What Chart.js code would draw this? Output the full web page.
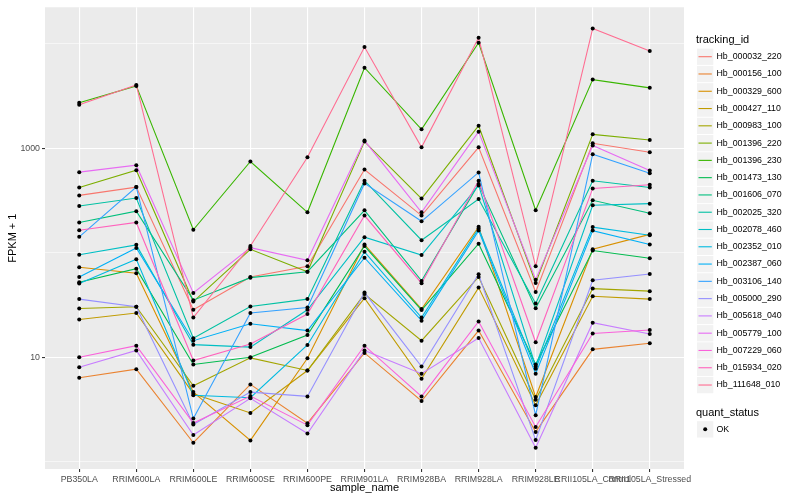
<!DOCTYPE html>
<html lang="en">
<head>
    <meta charset="UTF-8">
    <title>FPKM by sample</title>
    <script src="https://cdn.jsdelivr.net/npm/chart.js@4.4.1/dist/chart.umd.min.js"></script>
    <style>
        html, body {
            margin: 0;
            padding: 0;
            background: #ffffff;
        }

        #wrap {
            width: 800px;
            height: 500px;
        }
    </style>
</head>
<body>
    <div id="wrap"><canvas id="fpkmChart" width="800" height="500"></canvas></div>
<script>
    // x categories
    const sampleNames = ["PB350LA", "RRIM600LA", "RRIM600LE", "RRIM600SE", "RRIM600PE", "RRIM901LA",
        "RRIM928BA", "RRIM928LA", "RRIM928LE", "RRII105LA_Control", "RRII105LA_Stressed"];

    // FPKM + 1, one array per gene, same order as sampleNames
    const hb000032_220 = [354, 425, 28.5, 58.7, 74.2, 627, 227, 1022, 42.2, 1116, 916];
    const hb000156_100 = [6.37, 7.69, 1.52, 5.50, 2.34, 11.0, 3.81, 18.0, 1.93, 11.9, 13.6];
    const hb000329_600 = [72.6, 63.7, 4.64, 1.60, 9.78, 120, 28.9, 177, 4.16, 108, 150];
    const hb000427_110 = [23.0, 26.5, 4.48, 2.93, 7.47, 36.8, 6.23, 46.4, 3.47, 38.4, 36.0];
    const hb000983_100 = [29.3, 30.4, 5.34, 9.87, 7.47, 40.2, 14.4, 58.7, 3.93, 45.4, 42.9];
    const hb001396_220 = [422, 617, 34.1, 108, 65.9, 1158, 330, 1645, 51.4, 1359, 1202];
    const hb001396_230 = [2724, 3955, 166, 747, 244, 5908, 1517, 10220, 255, 4541, 3786];
    const hb001473_130 = [52.3, 70.4, 8.52, 10.0, 16.3, 116, 28.3, 122, 8.52, 105, 88.5];
    const hb001606_070 = [195, 250, 35.2, 57.8, 65.9, 255, 53.8, 454, 29.5, 318, 239];
    const hb002025_320 = [280, 334, 15.2, 30.6, 36.0, 489, 132, 327, 32.7, 489, 422];
    const hb002078_460 = [95.7, 119, 13.2, 12.5, 28.5, 141, 95.1, 441, 8.16, 285, 295];
    const hb002352_010 = [50.7, 86.5, 4.32, 4.10, 13.1, 102, 24.0, 171, 7.75, 176, 147];
    const hb002387_060 = [58.7, 111, 14.4, 20.9, 18.0, 89.6, 22.4, 163, 6.95, 163, 120];
    const hb003106_140 = [142, 425, 2.59, 26.5, 29.9, 461, 200, 587, 2.79, 877, 578];
    const hb005000_290 = [36.0, 30.4, 2.27, 4.64, 4.22, 41.6, 8.16, 62.3, 1.61, 54.6, 62.7];
    const hb005618_040 = [8.03, 11.6, 1.80, 4.04, 1.86, 11.6, 6.95, 15.3, 1.36, 21.4, 16.7];
    const hb005779_100 = [591, 689, 41.3, 112, 84.7, 1184, 244, 1442, 55.3, 1061, 613];
    const hb007229_060 = [10.0, 12.9, 2.35, 4.25, 2.24, 12.9, 4.22, 22.0, 2.15, 16.9, 18.2];
    const hb015934_020 = [164, 195, 9.30, 13.4, 25.9, 227, 51.1, 489, 13.9, 413, 448];
    const hb111648_010 = [2608, 4043, 24.0, 116, 821, 9303, 1022, 11405, 74.2, 14020, 8520];

    const trackingIds = ["Hb_000032_220", "Hb_000156_100", "Hb_000329_600", "Hb_000427_110", "Hb_000983_100",
        "Hb_001396_220", "Hb_001396_230", "Hb_001473_130", "Hb_001606_070", "Hb_002025_320",
        "Hb_002078_460", "Hb_002352_010", "Hb_002387_060", "Hb_003106_140", "Hb_005000_290",
        "Hb_005618_040", "Hb_005779_100", "Hb_007229_060", "Hb_015934_020", "Hb_111648_010"];
    const seriesValues = [hb000032_220, hb000156_100, hb000329_600, hb000427_110, hb000983_100,
        hb001396_220, hb001396_230, hb001473_130, hb001606_070, hb002025_320,
        hb002078_460, hb002352_010, hb002387_060, hb003106_140, hb005000_290,
        hb005618_040, hb005779_100, hb007229_060, hb015934_020, hb111648_010];

    // y breaks (log10), only some of them labelled
    const yBreaks = [1, 10, 100, 1000, 10000];
    const yLabelled = [10, 1000];

    const trackColors = ["#F8766D", "#EA8331", "#D89000", "#C09B00", "#A3A500", "#7CAE00", "#39B600",
        "#00BB4E", "#00BF7D", "#00C1A3", "#00BFC4", "#00BAE0", "#00B0F6", "#35A2FF", "#9590FF",
        "#C77CFF", "#E76BF3", "#FA62DB", "#FF62BC", "#FF6C91"];

    const FONT = '"Liberation Sans", Arial, sans-serif';
    Chart.defaults.font.family = FONT;

    // grey panel behind the grid, axis titles and the two legends
    const ggDecor = {
        id: 'ggDecor',
        beforeDraw(chart) {
            const { ctx, chartArea: a } = chart;
            ctx.save();
            ctx.fillStyle = '#EBEBEB';
            ctx.fillRect(a.left, a.top, a.right - a.left, a.bottom - a.top);
            ctx.restore();
        },
        afterDraw(chart) {
            const { ctx, chartArea: a } = chart;
            ctx.save();
            ctx.fillStyle = '#000000';
            ctx.textBaseline = 'middle';
            ctx.textAlign = 'center';
            ctx.font = '11px ' + FONT;
            ctx.fillText('sample_name', (a.left + a.right) / 2, 488);
            ctx.save();
            ctx.translate(13, (a.top + a.bottom) / 2);
            ctx.rotate(-Math.PI / 2);
            ctx.fillText('FPKM + 1', 0, 0);
            ctx.restore();

            // tracking_id legend
            ctx.textAlign = 'left';
            ctx.fillText('tracking_id', 696, 40);
            ctx.font = '8.8px ' + FONT;
            trackingIds.forEach((id, i) => {
                const cy = 56.7 + 17.28 * i;
                ctx.fillStyle = '#F2F2F2';
                ctx.fillRect(697, cy - 8.1, 16.3, 16.3);
                ctx.strokeStyle = trackColors[i];
                ctx.lineWidth = 1.1;
                ctx.beginPath();
                ctx.moveTo(698.5, cy);
                ctx.lineTo(711.8, cy);
                ctx.stroke();
                ctx.fillStyle = '#000000';
                ctx.fillText(id, 716.5, cy);
            });

            // quant_status legend
            ctx.font = '11px ' + FONT;
            ctx.fillText('quant_status', 696, 412.7);
            ctx.fillStyle = '#F2F2F2';
            ctx.fillRect(697, 421.2, 16.3, 16.3);
            ctx.fillStyle = '#000000';
            ctx.beginPath();
            ctx.arc(705.2, 429.3, 2, 0, Math.PI * 2);
            ctx.fill();
            ctx.font = '8.8px ' + FONT;
            ctx.fillText('OK', 716.5, 429.3);
            ctx.restore();
        }
    };

    // one line per gene; later genes drawn on top (lower order = on top)
    const lineSets = trackingIds.map((id, i) => ({
        label: id,
        data: seriesValues[i].map((v, j) => ({ x: j, y: v })),
        borderColor: trackColors[i],
        backgroundColor: trackColors[i],
        borderWidth: 1.1,
        pointRadius: 0,
        fill: false,
        tension: 0,
        order: trackingIds.length - i
    }));

    // all the black points, on top of every line
    const pointSet = {
        label: 'OK',
        data: seriesValues.flatMap(vals => vals.map((v, j) => ({ x: j, y: v }))),
        showLine: false,
        pointRadius: 2,
        pointBackgroundColor: '#000000',
        pointBorderWidth: 0,
        order: 0
    };

    const tickFont = { family: FONT, size: 8.8 };

    new Chart(document.getElementById('fpkmChart'), {
        type: 'line',
        data: { datasets: lineSets.concat([pointSet]) },
        options: {
            responsive: false,
            animation: false,
            devicePixelRatio: 1,
            layout: { padding: { left: 0, top: 5, right: 116, bottom: 0 } },
            plugins: {
                legend: { display: false },
                tooltip: { enabled: false }
            },
            scales: {
                x: {
                    type: 'linear',
                    min: -0.6,
                    max: 10.6,
                    afterBuildTicks: s => { s.ticks = sampleNames.map((_, i) => ({ value: i })); },
                    afterFit: s => { s.height = 31; },
                    ticks: {
                        autoSkip: false,
                        maxRotation: 0,
                        minRotation: 0,
                        padding: 2,
                        color: '#4D4D4D',
                        font: tickFont,
                        callback: v => sampleNames[v]
                    },
                    grid: {
                        color: '#FFFFFF',
                        lineWidth: 1.1,
                        tickLength: 3,
                        tickColor: '#333333',
                        tickWidth: 1.1
                    },
                    border: { display: false }
                },
                y: {
                    type: 'logarithmic',
                    min: 0.852,
                    max: 22360,
                    afterBuildTicks: s => { s.ticks = yBreaks.map(v => ({ value: v })); },
                    afterFit: s => { s.width = 45; },
                    ticks: {
                        autoSkip: false,
                        padding: 2,
                        color: '#4D4D4D',
                        font: tickFont,
                        callback: v => yLabelled.includes(v) ? String(v) : ''
                    },
                    grid: {
                        color: '#FFFFFF',
                        lineWidth: c => yLabelled.includes(c.tick.value) ? 1.1 : 0.55,
                        tickLength: 3,
                        tickColor: c => yLabelled.includes(c.tick.value) ? '#333333' : 'rgba(0,0,0,0)',
                        tickWidth: 1.1
                    },
                    border: { display: false }
                }
            }
        },
        plugins: [ggDecor]
    });
</script>
</body>
</html>
